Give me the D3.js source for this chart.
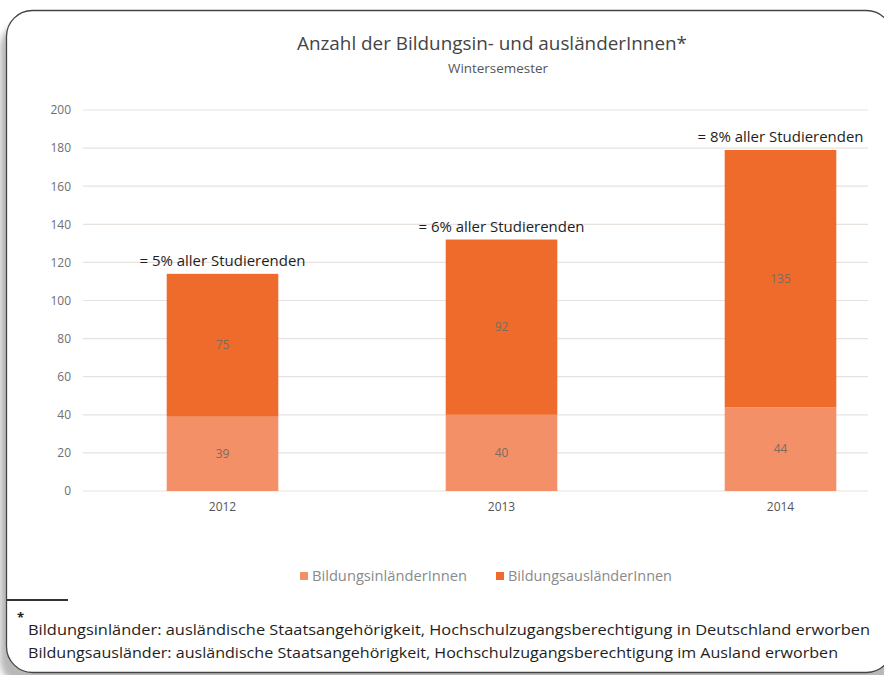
<!DOCTYPE html>
<html>
<head>
<meta charset="utf-8">
<script src="https://cdn.jsdelivr.net/npm/d3@7"></script>
<style>
  body { margin: 0; background: #fff; }
  svg { display: block; font-family: "Open Sans", sans-serif; }
</style>
</head>
<body>
<div id="chart"></div>
<script>
// Data
const years = ["2012", "2013", "2014"];
const inlaender = [39, 40, 44];
const auslaender = [75, 92, 135];
const shares = ["= 5% aller Studierenden", "= 6% aller Studierenden", "= 8% aller Studierenden"];
const seriesNames = ["BildungsinländerInnen", "BildungsausländerInnen"];
const yTicks = [0, 20, 40, 60, 80, 100, 120, 140, 160, 180, 200];
const footnotes = [
  "Bildungsinländer: ausländische Staatsangehörigkeit, Hochschulzugangsberechtigung in Deutschland erworben",
  "Bildungsausländer: ausländische Staatsangehörigkeit, Hochschulzugangsberechtigung im Ausland erworben"
];

const W = 884, H = 675;
const colors = ["#f39068", "#ef6b2b"];

const svg = d3.select("#chart").append("svg")
  .attr("width", W)
  .attr("height", H);

// frame with shadow
const defs = svg.append("defs");
defs.append("filter").attr("id", "blur")
  .attr("x", "-10%").attr("y", "-10%").attr("width", "120%").attr("height", "120%")
  .append("feGaussianBlur").attr("stdDeviation", 3);

svg.append("rect")
  .attr("x", 0).attr("y", 22)
  .attr("width", 900).attr("height", 664)
  .attr("rx", 26)
  .attr("fill", "#b8b8b8")
  .attr("filter", "url(#blur)");

svg.append("rect")
  .attr("x", 6.5).attr("y", 10.5)
  .attr("width", 886).attr("height", 662)
  .attr("rx", 26)
  .attr("fill", "#fff")
  .attr("stroke", "#444")
  .attr("stroke-width", 1.3);

// chart area
const margins = { left: 83, top: 110 };

const chart = svg.append("g")
  .attr("transform", `translate(${margins.left},${margins.top})`);

const x = d3.scaleBand()
  .domain(years)
  .range([0, 837])
  .paddingInner(0.6)
  .paddingOuter(0.3);

const y = d3.scaleLinear()
  .domain([0, 200])
  .range([381, 0]);

// grid lines
chart.selectAll(".grid")
  .data(yTicks)
  .enter()
  .append("line")
    .attr("x1", 0)
    .attr("x2", 785)
    .attr("y1", d => y(d))
    .attr("y2", d => y(d))
    .attr("stroke", "#e7e2de")
    .attr("stroke-width", 1.2);

// y axis labels
const yAxis = chart.append("g")
  .attr("transform", "translate(-12,0)")
  .call(d3.axisLeft(y).tickValues(yTicks).tickSize(0).tickPadding(0));
yAxis.select(".domain").remove();
yAxis.selectAll("text")
  .attr("fill", "#6f6f6f")
  .style("font-size", "12px")
  .style("font-family", "'Open Sans', sans-serif");

// x axis labels
const xAxis = chart.append("g")
  .attr("transform", `translate(0,${y(0) + 11})`)
  .call(d3.axisBottom(x).tickSize(0).tickPadding(0));
xAxis.select(".domain").remove();
xAxis.selectAll("text")
  .attr("fill", "#555")
  .style("font-size", "12px")
  .style("font-family", "'Open Sans', sans-serif");

// stacked bars
const rows = years.map((yr, i) => ({ year: yr, inl: inlaender[i], ausl: auslaender[i] }));
const stack = d3.stack().keys(["inl", "ausl"])(rows);

stack.forEach((layer, li) => {
  chart.selectAll(".bar" + li)
    .data(layer)
    .enter()
    .append("rect")
      .attr("x", d => x(d.data.year))
      .attr("y", d => y(d[1]))
      .attr("width", x.bandwidth())
      .attr("height", d => y(d[0]) - y(d[1]))
      .attr("fill", colors[li]);

  chart.selectAll(".val" + li)
    .data(layer)
    .enter()
    .append("text")
      .attr("x", d => x(d.data.year) + x.bandwidth() / 2)
      .attr("y", d => y((d[0] + d[1]) / 2))
      .attr("dy", "0.35em")
      .attr("text-anchor", "middle")
      .attr("fill", "#7d6a60")
      .style("font-size", "12px")
      .text(d => d[1] - d[0]);
});

// share annotations
chart.selectAll(".share")
  .data(rows)
  .enter()
  .append("text")
    .attr("x", d => x(d.year) + x.bandwidth() / 2)
    .attr("y", d => y(d.inl + d.ausl) - 8)
    .attr("text-anchor", "middle")
    .attr("fill", "#1e1e1e")
    .style("font-size", "15px")
    .attr("textLength", 166)
    .attr("lengthAdjust", "spacingAndGlyphs")
    .text((d, i) => shares[i]);

// title
svg.append("text")
  .attr("x", 492)
  .attr("y", 50)
  .attr("text-anchor", "middle")
  .attr("fill", "#444")
  .style("font-size", "19px")
  .attr("textLength", 390)
  .attr("lengthAdjust", "spacingAndGlyphs")
  .text("Anzahl der Bildungsin- und ausländerInnen*");

svg.append("text")
  .attr("x", 498)
  .attr("y", 73)
  .attr("text-anchor", "middle")
  .attr("fill", "#555")
  .style("font-size", "13px")
  .attr("textLength", 100)
  .attr("lengthAdjust", "spacingAndGlyphs")
  .text("Wintersemester");

// legend
const legendX = [300, 496];
const legendLen = [155, 164];
seriesNames.forEach((name, i) => {
  svg.append("rect")
    .attr("x", legendX[i])
    .attr("y", 572)
    .attr("width", 8)
    .attr("height", 8)
    .attr("fill", colors[i]);
  svg.append("text")
    .attr("x", legendX[i] + 12)
    .attr("y", 581)
    .attr("fill", "#8a8a8a")
    .style("font-size", "14px")
    .attr("textLength", legendLen[i])
    .attr("lengthAdjust", "spacingAndGlyphs")
    .text(name);
});

// footnote
svg.append("line")
  .attr("x1", 7).attr("x2", 68)
  .attr("y1", 600).attr("y2", 600)
  .attr("stroke", "#333")
  .attr("stroke-width", 2);

svg.append("text")
  .attr("x", 17)
  .attr("y", 622)
  .attr("fill", "#222")
  .style("font-size", "13px")
  .style("font-weight", "bold")
  .text("*");

footnotes.forEach((t, i) => {
  svg.append("text")
    .attr("x", 28)
    .attr("y", 635 + i * 23)
    .attr("fill", "#1e1e1e")
    .style("font-size", "15px")
    .attr("textLength", i === 0 ? 842 : 810)
    .attr("lengthAdjust", "spacingAndGlyphs")
    .text(t);
});
</script>
</body>
</html>
